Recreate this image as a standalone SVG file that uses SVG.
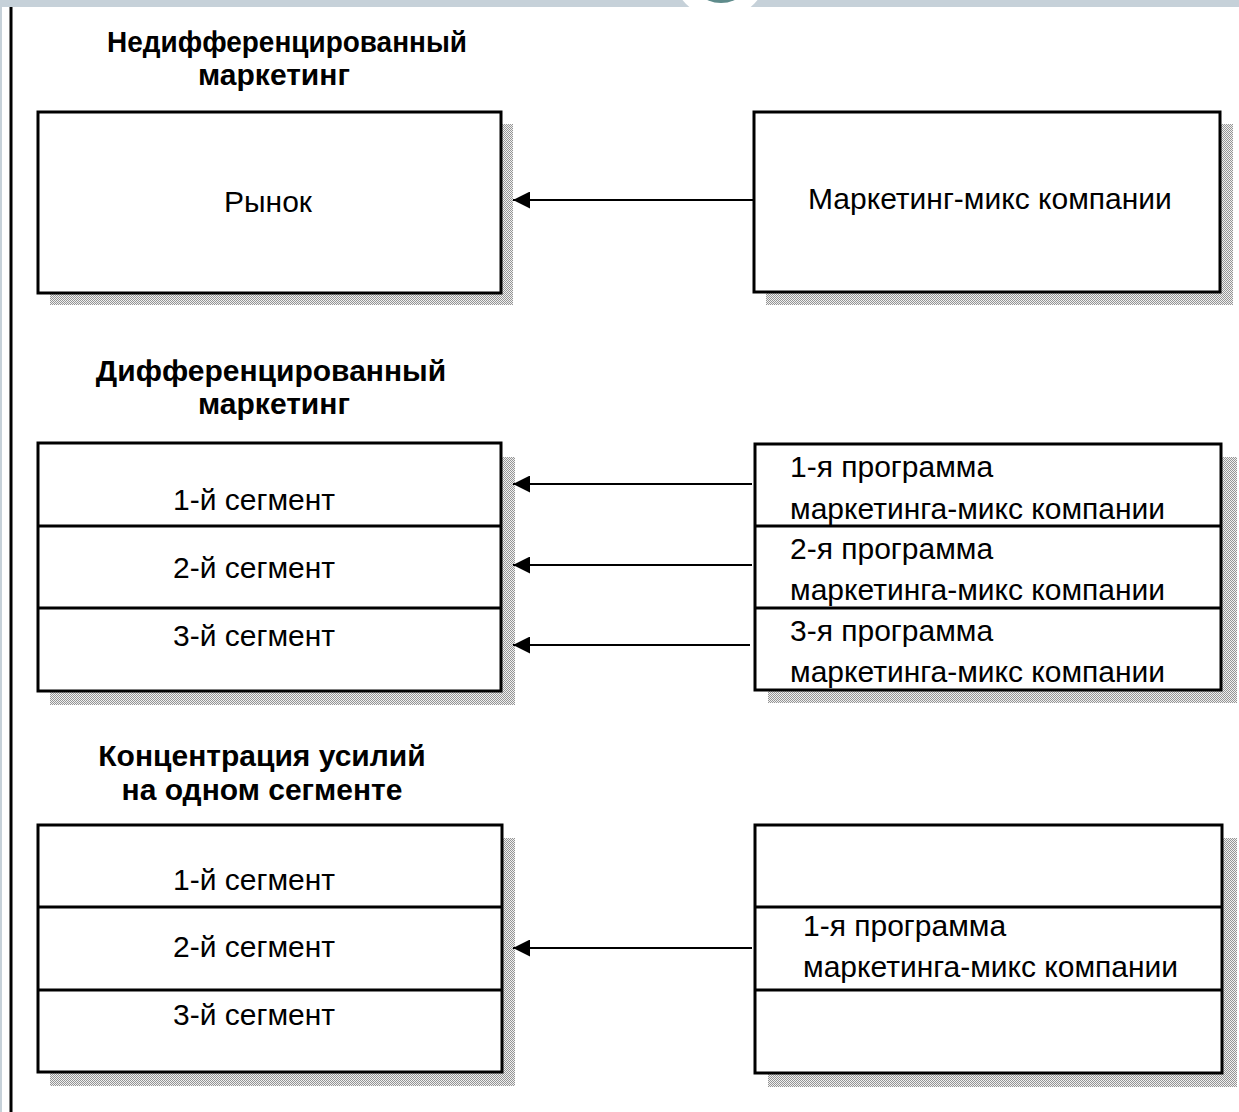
<svg xmlns="http://www.w3.org/2000/svg" width="1239" height="1112" viewBox="0 0 1239 1112">
<style>
.box{fill:#fff;stroke:#000;stroke-width:3}
.div{stroke:#000;stroke-width:3}
.sh{fill:url(#dots)}
.t{font-family:"Liberation Sans",Arial,sans-serif;font-size:30px;fill:#000}
.c{text-anchor:middle}
.h{font-family:"Liberation Sans",Arial,sans-serif;font-size:30px;font-weight:bold;fill:#000;text-anchor:middle}
.con{stroke:#000;stroke-width:2;fill:none;marker-end:url(#ah)}
</style>
<defs>
<pattern id="dots" width="2" height="2" patternUnits="userSpaceOnUse">
<rect width="2" height="2" fill="#f0f0f0"/>
<rect width="1" height="1" fill="#959595"/>
<rect x="1" y="1" width="1" height="1" fill="#959595"/>
</pattern>
<marker id="ah" viewBox="0 0 16 16" refX="16" refY="8" markerWidth="17" markerHeight="17" markerUnits="userSpaceOnUse" orient="auto">
<path d="M0,0 L16,8 L0,16 Z" fill="#000"/>
</marker>
</defs>
<rect width="1239" height="1112" fill="#fff"/>
<rect x="0" y="0" width="1239" height="7" fill="#c6d1d9"/>
<rect x="0" y="0" width="2" height="1112" fill="#c6d1d9"/>
<circle cx="720" cy="-30" r="48" fill="#fff"/>
<circle cx="721" cy="-30" r="33" fill="#5f8c8c"/>
<line x1="11" y1="7" x2="11" y2="1112" stroke="#000" stroke-width="3"/>

<text class="h" x="287" y="52" textLength="360" lengthAdjust="spacingAndGlyphs">Недифференцированный</text>
<text class="h" x="274" y="85">маркетинг</text>
<text class="h" x="271" y="381">Дифференцированный</text>
<text class="h" x="274" y="414">маркетинг</text>
<text class="h" x="262" y="766">Концентрация усилий</text>
<text class="h" x="262" y="800">на одном сегменте</text>

<g id="market">
<rect class="sh" x="50" y="124" width="463" height="181"/>
<rect class="box" x="38" y="112" width="463" height="181"/>
<text class="t c" x="268" y="212">Рынок</text>
</g>
<g id="mix">
<rect class="sh" x="766" y="124" width="467" height="181"/>
<rect class="box" x="754" y="112" width="466" height="180"/>
<text class="t" x="808" y="209">Маркетинг-микс компании</text>
</g>

<g id="segments2">
<rect class="sh" x="50" y="457" width="465" height="248"/>
<rect class="box" x="38" y="443" width="463" height="248"/>
<line class="div" x1="38" y1="526" x2="501" y2="526"/>
<line class="div" x1="38" y1="608" x2="501" y2="608"/>
<text class="t c" x="254" y="510">1-й сегмент</text>
<text class="t c" x="254" y="578">2-й сегмент</text>
<text class="t c" x="254" y="646">3-й сегмент</text>
</g>
<g id="programs2">
<rect class="sh" x="768" y="457" width="469" height="246"/>
<rect class="box" x="755" y="444" width="466" height="246"/>
<line class="div" x1="755" y1="526" x2="1221" y2="526"/>
<line class="div" x1="755" y1="608" x2="1221" y2="608"/>
<text class="t" x="790" y="477">1-я программа</text>
<text class="t" x="790" y="519">маркетинга-микс компании</text>
<text class="t" x="790" y="559">2-я программа</text>
<text class="t" x="790" y="600">маркетинга-микс компании</text>
<text class="t" x="790" y="641">3-я программа</text>
<text class="t" x="790" y="682">маркетинга-микс компании</text>
</g>

<g id="segments3">
<rect class="sh" x="50" y="838" width="465" height="248"/>
<rect class="box" x="38" y="825" width="464" height="247"/>
<line class="div" x1="38" y1="907" x2="502" y2="907"/>
<line class="div" x1="38" y1="990" x2="502" y2="990"/>
<text class="t c" x="254" y="890">1-й сегмент</text>
<text class="t c" x="254" y="957">2-й сегмент</text>
<text class="t c" x="254" y="1025">3-й сегмент</text>
</g>
<g id="programs3">
<rect class="sh" x="768" y="838" width="469" height="249"/>
<rect class="box" x="755" y="825" width="467" height="248"/>
<line class="div" x1="755" y1="907" x2="1222" y2="907"/>
<line class="div" x1="755" y1="990" x2="1222" y2="990"/>
<text class="t" x="803" y="936">1-я программа</text>
<text class="t" x="803" y="977">маркетинга-микс компании</text>
</g>

<g id="connectors">
<line class="con" x1="753" y1="200" x2="513" y2="200"/>
<line class="con" x1="752" y1="484" x2="513" y2="484"/>
<line class="con" x1="752" y1="565" x2="513" y2="565"/>
<line class="con" x1="750" y1="645" x2="513" y2="645"/>
<line class="con" x1="752" y1="948" x2="513" y2="948"/>
</g>
</svg>
